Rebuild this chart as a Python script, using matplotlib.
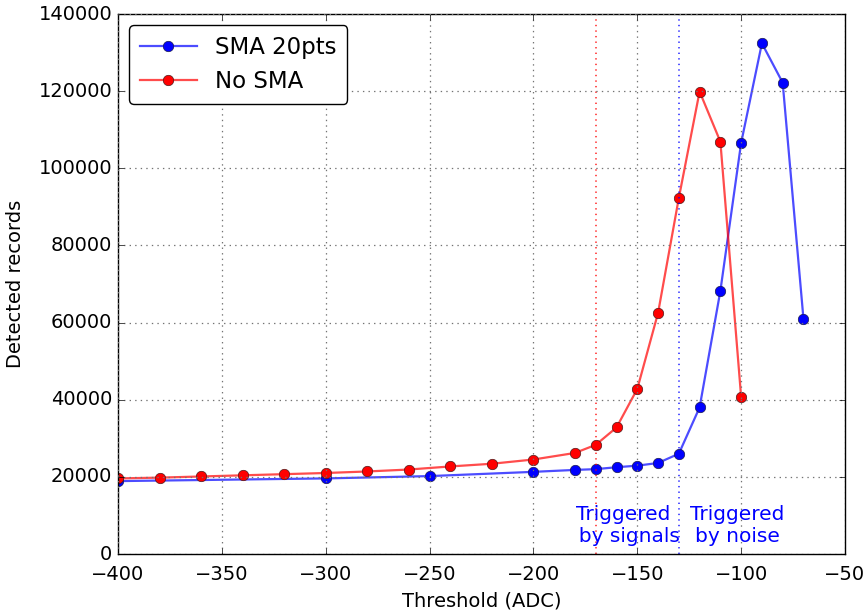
import numpy as np
import matplotlib
matplotlib.use("Agg")
import matplotlib.pyplot as plt

# Data
sma_thr = [-400, -300, -250, -200, -180, -170, -160, -150, -140, -130,
           -120, -110, -100, -90, -80, -70]
sma_rec = [18900, 19600, 20200, 21300, 21800, 22000, 22500, 22900, 23600, 26000,
           38000, 68200, 106600, 132400, 122200, 61000]

raw_thr = [-400, -380, -360, -340, -320, -300, -280, -260, -240, -220, -200,
           -180, -170, -160, -150, -140, -130, -120, -110, -100]
raw_rec = [19600, 19800, 20100, 20400, 20700, 21000, 21400, 21900, 22700, 23400, 24500,
           26200, 28300, 32800, 42800, 62500, 92300, 119900, 106900, 40700]

signal_cut = -170
noise_cut = -130

plt.style.use("classic")
fig = plt.figure(figsize=(8.64, 6.10), dpi=100, facecolor="white")
ax = fig.add_axes([0.1366, 0.0918, 0.8414, 0.8852])

ax.plot(sma_thr, sma_rec, "o-", color=(0, 0, 1, 0.7), markerfacecolor="b",
        markeredgecolor=(0.1, 0.1, 0.3), markersize=7.5, linewidth=1.6, label="SMA 20pts")
ax.plot(raw_thr, raw_rec, "o-", color=(1, 0, 0, 0.7), markerfacecolor="r",
        markeredgecolor=(0.3, 0.1, 0.1), markersize=7.5, linewidth=1.6, label="No SMA")

# Vertical cut lines
ax.axvline(signal_cut, color="r", linestyle=":", linewidth=1.2, alpha=0.8)
ax.axvline(noise_cut, color="b", linestyle=":", linewidth=1.2, alpha=0.8)

ax.text(-157, 2200, "Triggered\n  by signals", color="b", fontsize=14.5,
        ha="center", va="bottom", linespacing=1.15)
ax.text(-102, 2200, "Triggered\nby noise", color="b", fontsize=14.5,
        ha="center", va="bottom", linespacing=1.15)

ax.set_xlim(-400, -50)
ax.set_ylim(0, 140000)
ax.grid(True, color="0.45", linestyle=":", linewidth=0.9)
ax.set_xlabel("Threshold (ADC)", fontsize=14)
ax.set_ylabel("Detected records", fontsize=14, labelpad=10)
ax.tick_params(labelsize=14)
ax.tick_params(axis="x", pad=8)

ax.legend(loc="upper left", fontsize=16.5, numpoints=1, fancybox=True,
          framealpha=1, borderpad=0.45, handlelength=2.5)

fig.savefig("out.png", dpi=100, facecolor="white")
